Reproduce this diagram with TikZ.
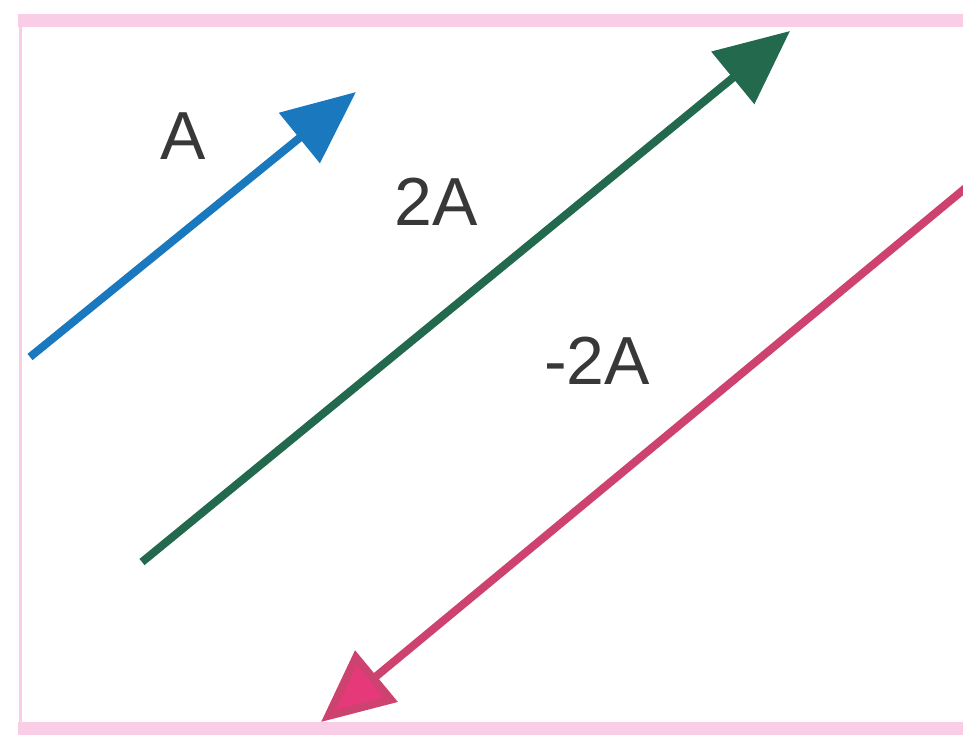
\documentclass[tikz,border=0pt]{standalone}
\usepackage{fontspec}
\setmainfont{Liberation Sans}
\usetikzlibrary{arrows.meta}
\definecolor{framepink}{HTML}{F9CDE6}
\definecolor{vblue}{HTML}{1A78BE}
\definecolor{vgreen}{HTML}{22694D}
\definecolor{vred}{HTML}{CE4270}
\definecolor{vredhead}{HTML}{E6397A}
\definecolor{labelgray}{HTML}{383838}
\tikzset{
  vec/.style={line width=8pt},
  veclabel/.style={text=labelgray, font=\fontsize{68}{68}\selectfont, inner sep=0pt},
  framelinethick/.style={draw=framepink, line width=13pt},
  framelinethin/.style={draw=framepink, line width=3pt}
}
\begin{document}
\begin{tikzpicture}[x=1pt,y=-1pt]
\useasboundingbox[fill=white] (0,0) rectangle (963,742);
% frame
\coordinate (tl) at (18,20);
\coordinate (tr) at (963,20);
\coordinate (bl) at (18,728);
\coordinate (br) at (963,728);
\coordinate (lt) at (20,20);
\coordinate (lb) at (20,728);
\draw[framelinethick] (tl) -- (tr);
\draw[framelinethick] (bl) -- (br);
\draw[framelinethin] (lt) -- (lb);
% vectors
\coordinate (aS) at (30,357);
\coordinate (aE) at (356,92);
\coordinate (bS) at (142,562);
\coordinate (bE) at (790,31);
\coordinate (cS) at (980,176);
\coordinate (cE) at (321,722);
\draw[vec, draw=vblue, -{Triangle[length=73pt,width=63pt,fill=vblue]}] (aS) -- (aE);
\draw[vec, draw=vgreen, -{Triangle[length=74pt,width=66pt,fill=vgreen]}] (bS) -- (bE);
\draw[vec, draw=vred, -{Triangle[length=72pt,width=65pt,fill=vredhead]}] (cS) -- (cE);
% labels
\node[veclabel] (lA) at (183,136) {A};
\node[veclabel] (l2A) at (436,202) {2A};
\node[veclabel] (lm2A) at (597,361) {-2A};
\end{tikzpicture}
\end{document}
